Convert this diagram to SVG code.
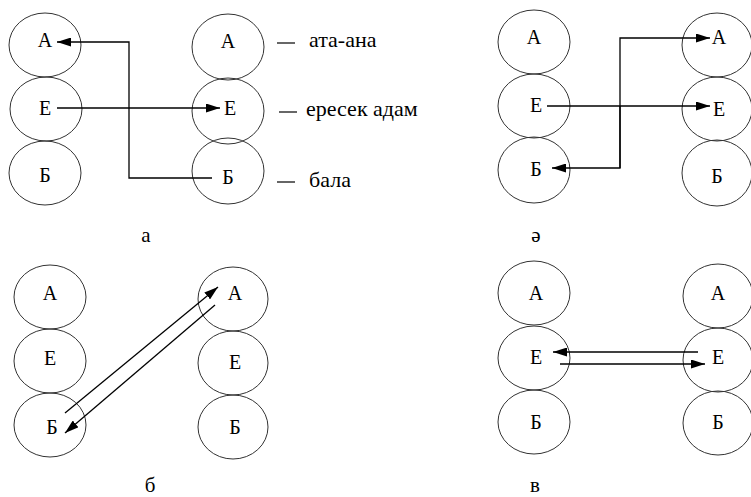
<svg xmlns="http://www.w3.org/2000/svg" width="751" height="497" viewBox="0 0 751 497">
<style>
.n ellipse{fill:none;stroke:#333;stroke-width:1}
.t{font-family:"Liberation Serif","Times New Roman","DejaVu Serif",serif;font-size:20px;fill:#000}
.lb{font-size:22px}
.n text{text-anchor:middle}
.c line,.c polyline{fill:none;stroke:#000;stroke-width:1.3}
.dash{stroke:#000;stroke-width:1.2}
.cap{text-anchor:middle;font-size:21px}
</style>
<defs>
<marker id="ah" markerWidth="14" markerHeight="9" refX="14" refY="4.5" orient="auto" markerUnits="userSpaceOnUse">
<path d="M0,0 L14,4.5 L0,9 Z" fill="#000"/>
</marker>
</defs>
<rect width="751" height="497" fill="#fff"/>
<!-- Panel a -->
<g id="a-L-A" class="n"><ellipse cx="45" cy="45" rx="36" ry="32"/><text class="t" x="45" y="47">А</text></g>
<g id="a-L-E" class="n"><ellipse cx="46" cy="109" rx="36" ry="32"/><text class="t" x="45" y="115">Е</text></g>
<g id="a-L-B" class="n"><ellipse cx="45" cy="173" rx="36" ry="32"/><text class="t" x="45" y="182">Б</text></g>
<g id="a-R-A" class="n"><ellipse cx="228" cy="47" rx="36" ry="33"/><text class="t" x="228" y="48">А</text></g>
<g id="a-R-E" class="n"><ellipse cx="228" cy="111" rx="36" ry="33"/><text class="t" x="230" y="115">Е</text></g>
<g id="a-R-B" class="n"><ellipse cx="228" cy="171" rx="36" ry="33"/><text class="t" x="228" y="184">Б</text></g>
<g id="a-labels">
<line class="dash" x1="277" y1="43" x2="295" y2="43"/>
<text class="t lb" x="309" y="47">ата-ана</text>
<line class="dash" x1="279" y1="112" x2="297" y2="112"/>
<text class="t lb" x="306" y="116">ересек адам</text>
<line class="dash" x1="277" y1="182" x2="295" y2="182"/>
<text class="t lb" x="309" y="187">бала</text>
</g>
<!-- Panel ә -->
<g id="e-L-A" class="n"><ellipse cx="534" cy="42" rx="36" ry="32"/><text class="t" x="534" y="44">А</text></g>
<g id="e-L-E" class="n"><ellipse cx="534" cy="106" rx="36" ry="32"/><text class="t" x="536" y="112">Е</text></g>
<g id="e-L-B" class="n"><ellipse cx="534" cy="170" rx="36" ry="33"/><text class="t" x="536" y="176">Б</text></g>
<g id="e-R-A" class="n"><ellipse cx="717" cy="45" rx="35" ry="32"/><text class="t" x="719" y="44">А</text></g>
<g id="e-R-E" class="n"><ellipse cx="717" cy="109" rx="35" ry="32"/><text class="t" x="719" y="116">Е</text></g>
<g id="e-R-B" class="n"><ellipse cx="717" cy="173" rx="35" ry="33"/><text class="t" x="717" y="183">Б</text></g>
<!-- Panel б -->
<g id="b-L-A" class="n"><ellipse cx="50" cy="297" rx="36" ry="32"/><text class="t" x="50" y="300">А</text></g>
<g id="b-L-E" class="n"><ellipse cx="50" cy="361" rx="36" ry="32"/><text class="t" x="50" y="365">Е</text></g>
<g id="b-L-B" class="n"><ellipse cx="50" cy="425" rx="36" ry="32"/><text class="t" x="52" y="434">Б</text></g>
<g id="b-R-A" class="n"><ellipse cx="233" cy="299" rx="35" ry="32"/><text class="t" x="235" y="300">А</text></g>
<g id="b-R-E" class="n"><ellipse cx="233" cy="363" rx="35" ry="32"/><text class="t" x="235" y="369">Е</text></g>
<g id="b-R-B" class="n"><ellipse cx="233" cy="427" rx="35" ry="32"/><text class="t" x="235" y="434">Б</text></g>
<!-- Panel в -->
<g id="v-L-A" class="n"><ellipse cx="534" cy="293" rx="36" ry="32"/><text class="t" x="536" y="300">А</text></g>
<g id="v-L-E" class="n"><ellipse cx="534" cy="358" rx="36" ry="32"/><text class="t" x="536" y="364">Е</text></g>
<g id="v-L-B" class="n"><ellipse cx="534" cy="422" rx="36" ry="32"/><text class="t" x="536" y="429">Б</text></g>
<g id="v-R-A" class="n"><ellipse cx="718" cy="296" rx="35" ry="32"/><text class="t" x="718" y="300">А</text></g>
<g id="v-R-E" class="n"><ellipse cx="718" cy="360" rx="35" ry="32"/><text class="t" x="718" y="364">Е</text></g>
<g id="v-R-B" class="n"><ellipse cx="718" cy="423" rx="35" ry="32"/><text class="t" x="718" y="429">Б</text></g>
<!-- Connectors -->
<g id="connectors" class="c">
<polyline points="212,178 129,178 129,42 57,42" marker-end="url(#ah)"/>
<line x1="57" y1="108" x2="220" y2="108" marker-end="url(#ah)"/>
<polyline points="620,168 620,38 710,38" marker-end="url(#ah)"/>
<polyline points="620,106 620,168 552,168" marker-end="url(#ah)"/>
<line x1="547" y1="106" x2="710" y2="106" marker-end="url(#ah)"/>
<line x1="65" y1="413" x2="218" y2="287" marker-end="url(#ah)"/>
<line x1="215" y1="305" x2="65" y2="433" marker-end="url(#ah)"/>
<line x1="698" y1="352" x2="553" y2="352" marker-end="url(#ah)"/>
<line x1="560" y1="364" x2="705" y2="364" marker-end="url(#ah)"/>
</g>
<g id="captions">
<text class="t cap" x="146" y="242">а</text>
<text class="t cap" x="536" y="242">ә</text>
<text class="t cap" x="150" y="492">б</text>
<text class="t cap" x="535" y="492">в</text>
</g>
</svg>
